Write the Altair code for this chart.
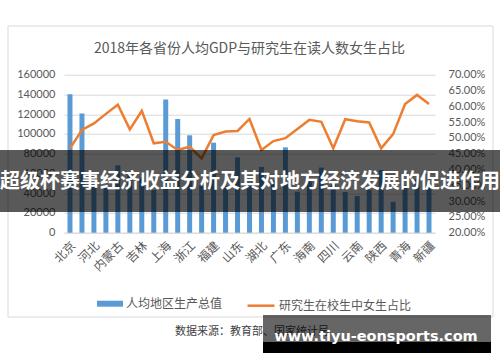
import altair as alt
import pandas as pd

provinces = ["北京", "天津", "河北", "山西", "内蒙古", "辽宁", "吉林", "黑龙江", "上海", "江苏",
             "浙江", "安徽", "福建", "江西", "山东", "河南", "湖北", "湖南", "广东", "广西",
             "海南", "重庆", "四川", "贵州", "云南", "西藏", "陕西", "甘肃", "青海", "宁夏", "新疆"]
gdp = [140211, 120711, 47772, 45328, 68302, 58008, 55611, 43274, 134982, 115168,
       98643, 47712, 91197, 47434, 76267, 50152, 66616, 52949, 86412, 41489,
       51955, 65933, 48883, 41244, 37136, 43398, 63477, 31336, 47689, 54094, 49475]
female_ratio = [0.467, 0.525, 0.546, 0.576, 0.605, 0.527, 0.586, 0.483, 0.488, 0.462,
                0.472, 0.435, 0.509, 0.520, 0.522, 0.560, 0.462, 0.490, 0.499, 0.528,
                0.557, 0.551, 0.467, 0.559, 0.553, 0.549, 0.467, 0.512, 0.607, 0.636, 0.607]
shown_labels = provinces[::2]
gdp_ticks = [0, 20000, 40000, 60000, 80000, 100000, 120000, 140000, 160000]
pct_ticks = [0.20, 0.25, 0.30, 0.35, 0.40, 0.45, 0.50, 0.55, 0.60, 0.65, 0.70]

series_bar = "人均地区生产总值"
series_line = "研究生在校生中女生占比"
title_text = "2018年各省份人均GDP与研究生在读人数女生占比"
source_text = "数据来源：教育部、国家统计局"
banner_text = "超级杯赛事经济收益分析及其对地方经济发展的促进作用"
url_text = "www.tiyu-eonsports.com"

df = pd.DataFrame({
    "province": provinces,
    "gdp": gdp,
    "ratio": female_ratio,
    "s1": series_bar,
    "s2": series_line,
})
one = pd.DataFrame({"k": [0]})

GRAY = "#595959"
CJK = "Noto Sans CJK SC"

x_enc = alt.X("province:N", sort=provinces,
              scale=alt.Scale(paddingInner=0, paddingOuter=0),
              axis=alt.Axis(title=None, values=shown_labels, labelAngle=-45,
                            labelFont=CJK, labelFontSize=12, labelColor=GRAY,
                            ticks=False, domainColor="#D9D9D9", labelPadding=7))

bars = alt.Chart(df).mark_bar(size=5).encode(
    x=x_enc,
    y=alt.Y("gdp:Q", scale=alt.Scale(domain=[0, 160000], nice=False),
            axis=alt.Axis(title=None, values=gdp_ticks, format="d", labelFont="Lato",
                          labelFontSize=11, labelColor=GRAY, ticks=False, domain=False,
                          gridColor="#D9D9D9", labelPadding=9)),
    fill=alt.Fill("s1:N", scale=alt.Scale(domain=[series_bar], range=["#5B9BD5"]),
                  legend=alt.Legend(title=None, orient="none", legendX=33, legendY=216,
                                    padding=0, symbolType="M-1,-0.23H1V0.23H-1Z",
                                    symbolSize=676, symbolStrokeWidth=0, labelOffset=3,
                                    labelFont=CJK, labelFontSize=12, labelColor=GRAY)),
)

line = alt.Chart(df).mark_line(strokeWidth=2.5).encode(
    x=alt.X("province:N", sort=provinces),
    y=alt.Y("ratio:Q", scale=alt.Scale(domain=[0.2, 0.7], nice=False),
            axis=alt.Axis(title=None, orient="right", values=pct_ticks, format=".2%",
                          labelFont="Lato", labelFontSize=11, labelColor=GRAY,
                          ticks=False, domain=False, grid=False, labelPadding=13)),
    stroke=alt.Stroke("s2:N", scale=alt.Scale(domain=[series_line], range=["#ED7D31"]),
                      legend=alt.Legend(title=None, orient="none", legendX=182, legendY=216,
                                        padding=0, symbolType="stroke", symbolSize=729,
                                        symbolStrokeWidth=2.5, labelOffset=3,
                                        labelFont=CJK, labelFontSize=12, labelColor=GRAY)),
)

border = alt.Chart(one).mark_rect(fillOpacity=0, stroke="#D9D9D9", strokeWidth=1).encode(
    x=alt.value(-56), x2=alt.value(429), y=alt.value(-48.7), y2=alt.value(242.3))

title = alt.Chart(one).mark_text(text=title_text, font=CJK, fontSize=14, color=GRAY,
                                 align="center", baseline="middle").encode(
    x=alt.value(185.5), y=alt.value(-25.2))

source = alt.Chart(one).mark_text(text=source_text, font=CJK, fontSize=11, color="#404040",
                                  align="left", baseline="middle").encode(
    x=alt.value(111), y=alt.value(256.8))

banner = alt.Chart(one).mark_rect(color="black", opacity=0.65).encode(
    x=alt.value(-64), x2=alt.value(436), y=alt.value(75.3), y2=alt.value(137.3))

banner_t = alt.Chart(one).mark_text(text=banner_text, font=CJK, fontSize=20, fontWeight="bold",
                                    color="white", align="center", baseline="middle").encode(
    x=alt.value(186), y=alt.value(107))

url_box = alt.Chart(one).mark_rect(color="black", opacity=0.6).encode(
    x=alt.value(199), x2=alt.value(427), y=alt.value(240.3), y2=alt.value(267.3))
url_box2 = alt.Chart(one).mark_rect(color="black").encode(
    x=alt.value(199), x2=alt.value(427), y=alt.value(267.3), y2=alt.value(278.3))
url_t = alt.Chart(one).mark_text(text=url_text, font="DejaVu Sans", fontSize=14.5, fontWeight="bold",
                                 color="white", align="center", baseline="middle").encode(
    x=alt.value(312), y=alt.value(262))

chart = alt.layer(border, bars, line, title, source, banner, banner_t, url_box, url_box2, url_t
).resolve_scale(y="independent").properties(
    width=371, height=158,
    autosize=alt.AutoSizeParams(type="none"),
    padding={"left": 64, "top": 74.7, "right": 65, "bottom": 129.3},
    background="white",
).configure_view(stroke=None)

chart.save("out.html", embed_options={"renderer": "svg", "actions": False})
